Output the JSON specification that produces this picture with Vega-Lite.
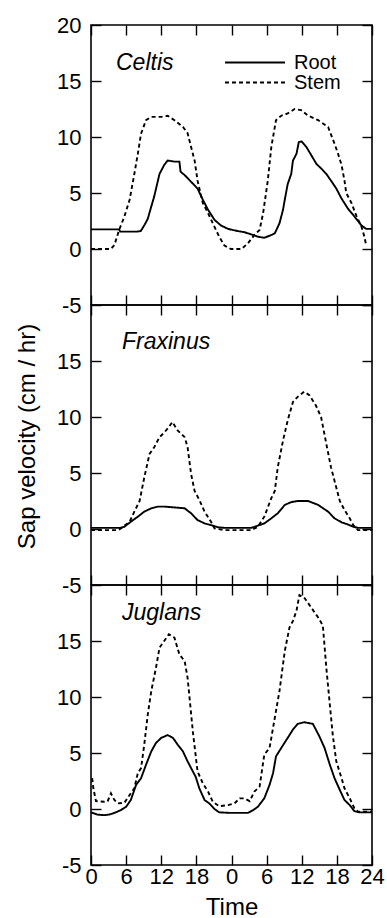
{
  "$schema": "https://vega.github.io/schema/vega-lite/v6.json",
  "background": "white",
  "padding": {"left": 14, "top": 13, "right": 5, "bottom": 0},
  "config": {
    "font": "Liberation Sans",
    "view": {"stroke": "black", "strokeWidth": 1.6},
    "axis": {"grid": false, "domain": false, "tickColor": "black", "tickWidth": 1.4, "tickSize": -10, "labelColor": "black", "labelFontSize": 22, "labelFont": "Liberation Sans", "titleFont": "Liberation Sans", "titleFontSize": 24, "titleFontWeight": "normal", "titleColor": "black", "labelFlush": false, "labelOverlap": false},
    "title": {"font": "Liberation Sans", "fontSize": 23, "fontStyle": "italic", "fontWeight": "normal", "color": "black", "anchor": "start", "frame": "group", "offset": -61, "dx": 25},
    "line": {"strokeWidth": 1.9, "color": "black"}
  },
  "datasets": {
    "sap": [
      {"s":"Celtis","p":"Root","t":0,"v":1.75},{"s":"Celtis","p":"Root","t":4.8,"v":1.75},{"s":"Celtis","p":"Root","t":5.0,"v":1.55},{"s":"Celtis","p":"Root","t":7.7,"v":1.55},{"s":"Celtis","p":"Root","t":8.5,"v":1.6},{"s":"Celtis","p":"Root","t":9.2,"v":2.2},{"s":"Celtis","p":"Root","t":9.7,"v":2.7},{"s":"Celtis","p":"Root","t":10.3,"v":3.8},{"s":"Celtis","p":"Root","t":10.8,"v":4.7},{"s":"Celtis","p":"Root","t":11.7,"v":6.7},{"s":"Celtis","p":"Root","t":12.5,"v":7.5},{"s":"Celtis","p":"Root","t":13.1,"v":7.9},{"s":"Celtis","p":"Root","t":14.25,"v":7.8},{"s":"Celtis","p":"Root","t":15.1,"v":7.8},{"s":"Celtis","p":"Root","t":15.3,"v":6.9},{"s":"Celtis","p":"Root","t":16,"v":6.6},{"s":"Celtis","p":"Root","t":17.1,"v":6.0},{"s":"Celtis","p":"Root","t":18.2,"v":5.4},{"s":"Celtis","p":"Root","t":19.1,"v":4.4},{"s":"Celtis","p":"Root","t":20,"v":3.5},{"s":"Celtis","p":"Root","t":21.1,"v":2.6},{"s":"Celtis","p":"Root","t":22.2,"v":2.1},{"s":"Celtis","p":"Root","t":23.4,"v":1.8},{"s":"Celtis","p":"Root","t":24.2,"v":1.7},{"s":"Celtis","p":"Root","t":25.1,"v":1.6},{"s":"Celtis","p":"Root","t":26.2,"v":1.5},{"s":"Celtis","p":"Root","t":27.4,"v":1.3},{"s":"Celtis","p":"Root","t":28.5,"v":1.1},{"s":"Celtis","p":"Root","t":29.6,"v":1.0},{"s":"Celtis","p":"Root","t":30.8,"v":1.25},{"s":"Celtis","p":"Root","t":31.4,"v":1.4},{"s":"Celtis","p":"Root","t":32.2,"v":2.3},{"s":"Celtis","p":"Root","t":32.8,"v":3.5},{"s":"Celtis","p":"Root","t":33.1,"v":4.4},{"s":"Celtis","p":"Root","t":33.6,"v":5.8},{"s":"Celtis","p":"Root","t":34.2,"v":6.7},{"s":"Celtis","p":"Root","t":34.5,"v":7.9},{"s":"Celtis","p":"Root","t":35.1,"v":8.5},{"s":"Celtis","p":"Root","t":35.5,"v":9.55},{"s":"Celtis","p":"Root","t":36,"v":9.6},{"s":"Celtis","p":"Root","t":36.8,"v":9.1},{"s":"Celtis","p":"Root","t":37.6,"v":8.4},{"s":"Celtis","p":"Root","t":38.5,"v":7.6},{"s":"Celtis","p":"Root","t":39.3,"v":7.2},{"s":"Celtis","p":"Root","t":40.2,"v":6.7},{"s":"Celtis","p":"Root","t":41,"v":6.1},{"s":"Celtis","p":"Root","t":41.9,"v":5.4},{"s":"Celtis","p":"Root","t":42.8,"v":4.5},{"s":"Celtis","p":"Root","t":43.9,"v":3.6},{"s":"Celtis","p":"Root","t":45,"v":2.9},{"s":"Celtis","p":"Root","t":46.2,"v":2.1},{"s":"Celtis","p":"Root","t":47,"v":1.8},{"s":"Celtis","p":"Root","t":48,"v":1.8},
      {"s":"Celtis","p":"Stem","t":0,"v":0},{"s":"Celtis","p":"Stem","t":3.4,"v":0},{"s":"Celtis","p":"Stem","t":4,"v":0.35},{"s":"Celtis","p":"Stem","t":4.8,"v":1.7},{"s":"Celtis","p":"Stem","t":5.7,"v":2.9},{"s":"Celtis","p":"Stem","t":6.6,"v":4.4},{"s":"Celtis","p":"Stem","t":7.4,"v":6.7},{"s":"Celtis","p":"Stem","t":8,"v":8.5},{"s":"Celtis","p":"Stem","t":8.55,"v":10.3},{"s":"Celtis","p":"Stem","t":9.4,"v":11.5},{"s":"Celtis","p":"Stem","t":10.3,"v":11.8},{"s":"Celtis","p":"Stem","t":12,"v":11.8},{"s":"Celtis","p":"Stem","t":13.1,"v":11.9},{"s":"Celtis","p":"Stem","t":14.25,"v":11.5},{"s":"Celtis","p":"Stem","t":15.7,"v":10.9},{"s":"Celtis","p":"Stem","t":16.5,"v":10.35},{"s":"Celtis","p":"Stem","t":17.1,"v":9.1},{"s":"Celtis","p":"Stem","t":17.7,"v":7.9},{"s":"Celtis","p":"Stem","t":18.2,"v":6.1},{"s":"Celtis","p":"Stem","t":19.1,"v":4.1},{"s":"Celtis","p":"Stem","t":20,"v":3.2},{"s":"Celtis","p":"Stem","t":20.8,"v":2.3},{"s":"Celtis","p":"Stem","t":21.9,"v":1.1},{"s":"Celtis","p":"Stem","t":22.8,"v":0.3},{"s":"Celtis","p":"Stem","t":23.9,"v":0},{"s":"Celtis","p":"Stem","t":25.7,"v":0},{"s":"Celtis","p":"Stem","t":26.8,"v":0.5},{"s":"Celtis","p":"Stem","t":27.9,"v":1.25},{"s":"Celtis","p":"Stem","t":28.8,"v":1.7},{"s":"Celtis","p":"Stem","t":29.4,"v":3.2},{"s":"Celtis","p":"Stem","t":30.2,"v":6.1},{"s":"Celtis","p":"Stem","t":30.8,"v":9.1},{"s":"Celtis","p":"Stem","t":31.6,"v":11.5},{"s":"Celtis","p":"Stem","t":32.5,"v":11.9},{"s":"Celtis","p":"Stem","t":33.6,"v":12.1},{"s":"Celtis","p":"Stem","t":34.8,"v":12.5},{"s":"Celtis","p":"Stem","t":35.9,"v":12.4},{"s":"Celtis","p":"Stem","t":37.1,"v":11.9},{"s":"Celtis","p":"Stem","t":38.8,"v":11.5},{"s":"Celtis","p":"Stem","t":40.5,"v":10.9},{"s":"Celtis","p":"Stem","t":41.6,"v":9.4},{"s":"Celtis","p":"Stem","t":42.2,"v":8.5},{"s":"Celtis","p":"Stem","t":42.8,"v":7.5},{"s":"Celtis","p":"Stem","t":43.3,"v":6.1},{"s":"Celtis","p":"Stem","t":43.6,"v":5.0},{"s":"Celtis","p":"Stem","t":44.5,"v":4.1},{"s":"Celtis","p":"Stem","t":45.3,"v":3.0},{"s":"Celtis","p":"Stem","t":46.2,"v":2.0},{"s":"Celtis","p":"Stem","t":46.7,"v":1.1},{"s":"Celtis","p":"Stem","t":47,"v":0.35},
      {"s":"Fraxinus","p":"Root","t":0,"v":0.1},{"s":"Fraxinus","p":"Root","t":5,"v":0.1},{"s":"Fraxinus","p":"Root","t":5.7,"v":0.2},{"s":"Fraxinus","p":"Root","t":6.8,"v":0.65},{"s":"Fraxinus","p":"Root","t":8,"v":1.1},{"s":"Fraxinus","p":"Root","t":9.1,"v":1.55},{"s":"Fraxinus","p":"Root","t":10.3,"v":1.85},{"s":"Fraxinus","p":"Root","t":11.4,"v":2.0},{"s":"Fraxinus","p":"Root","t":12.5,"v":2.0},{"s":"Fraxinus","p":"Root","t":14.8,"v":1.9},{"s":"Fraxinus","p":"Root","t":16,"v":1.85},{"s":"Fraxinus","p":"Root","t":17.1,"v":1.4},{"s":"Fraxinus","p":"Root","t":18.2,"v":0.8},{"s":"Fraxinus","p":"Root","t":19.4,"v":0.5},{"s":"Fraxinus","p":"Root","t":20.5,"v":0.35},{"s":"Fraxinus","p":"Root","t":21.7,"v":0.15},{"s":"Fraxinus","p":"Root","t":22.8,"v":0.1},{"s":"Fraxinus","p":"Root","t":27.4,"v":0.1},{"s":"Fraxinus","p":"Root","t":28.5,"v":0.3},{"s":"Fraxinus","p":"Root","t":29.6,"v":0.5},{"s":"Fraxinus","p":"Root","t":30.8,"v":0.95},{"s":"Fraxinus","p":"Root","t":31.9,"v":1.4},{"s":"Fraxinus","p":"Root","t":33.1,"v":2.15},{"s":"Fraxinus","p":"Root","t":34.2,"v":2.4},{"s":"Fraxinus","p":"Root","t":35.3,"v":2.5},{"s":"Fraxinus","p":"Root","t":37.1,"v":2.5},{"s":"Fraxinus","p":"Root","t":38.8,"v":2.15},{"s":"Fraxinus","p":"Root","t":40.5,"v":1.55},{"s":"Fraxinus","p":"Root","t":41.6,"v":0.95},{"s":"Fraxinus","p":"Root","t":42.8,"v":0.6},{"s":"Fraxinus","p":"Root","t":43.9,"v":0.4},{"s":"Fraxinus","p":"Root","t":44.8,"v":0.2},{"s":"Fraxinus","p":"Root","t":45.6,"v":0.1},{"s":"Fraxinus","p":"Root","t":48,"v":0.1},
      {"s":"Fraxinus","p":"Stem","t":0,"v":-0.1},{"s":"Fraxinus","p":"Stem","t":4.6,"v":-0.1},{"s":"Fraxinus","p":"Stem","t":5.1,"v":0.05},{"s":"Fraxinus","p":"Stem","t":6.6,"v":0.65},{"s":"Fraxinus","p":"Stem","t":7.4,"v":1.55},{"s":"Fraxinus","p":"Stem","t":8.3,"v":2.5},{"s":"Fraxinus","p":"Stem","t":9.1,"v":4.6},{"s":"Fraxinus","p":"Stem","t":10,"v":6.7},{"s":"Fraxinus","p":"Stem","t":10.8,"v":7.3},{"s":"Fraxinus","p":"Stem","t":11.7,"v":8.2},{"s":"Fraxinus","p":"Stem","t":12.5,"v":8.6},{"s":"Fraxinus","p":"Stem","t":13.3,"v":9.1},{"s":"Fraxinus","p":"Stem","t":13.9,"v":9.55},{"s":"Fraxinus","p":"Stem","t":14.8,"v":8.8},{"s":"Fraxinus","p":"Stem","t":16,"v":8.2},{"s":"Fraxinus","p":"Stem","t":16.5,"v":7.3},{"s":"Fraxinus","p":"Stem","t":17.1,"v":4.9},{"s":"Fraxinus","p":"Stem","t":17.7,"v":3.4},{"s":"Fraxinus","p":"Stem","t":18.5,"v":2.6},{"s":"Fraxinus","p":"Stem","t":19.4,"v":1.55},{"s":"Fraxinus","p":"Stem","t":20.5,"v":0.65},{"s":"Fraxinus","p":"Stem","t":21.1,"v":0.05},{"s":"Fraxinus","p":"Stem","t":22.8,"v":-0.1},{"s":"Fraxinus","p":"Stem","t":27.4,"v":-0.1},{"s":"Fraxinus","p":"Stem","t":28.5,"v":0.2},{"s":"Fraxinus","p":"Stem","t":29.6,"v":1.1},{"s":"Fraxinus","p":"Stem","t":30.8,"v":2.75},{"s":"Fraxinus","p":"Stem","t":31.4,"v":3.4},{"s":"Fraxinus","p":"Stem","t":31.9,"v":5.5},{"s":"Fraxinus","p":"Stem","t":32.8,"v":7.9},{"s":"Fraxinus","p":"Stem","t":33.6,"v":9.7},{"s":"Fraxinus","p":"Stem","t":34.5,"v":11.35},{"s":"Fraxinus","p":"Stem","t":35.3,"v":11.8},{"s":"Fraxinus","p":"Stem","t":36.4,"v":12.25},{"s":"Fraxinus","p":"Stem","t":37.3,"v":11.95},{"s":"Fraxinus","p":"Stem","t":38.4,"v":11.05},{"s":"Fraxinus","p":"Stem","t":39.3,"v":10.0},{"s":"Fraxinus","p":"Stem","t":40.2,"v":7.6},{"s":"Fraxinus","p":"Stem","t":41,"v":5.5},{"s":"Fraxinus","p":"Stem","t":41.9,"v":3.7},{"s":"Fraxinus","p":"Stem","t":42.5,"v":2.5},{"s":"Fraxinus","p":"Stem","t":43.3,"v":1.7},{"s":"Fraxinus","p":"Stem","t":44.2,"v":0.95},{"s":"Fraxinus","p":"Stem","t":44.8,"v":0.35},{"s":"Fraxinus","p":"Stem","t":45.6,"v":-0.1},{"s":"Fraxinus","p":"Stem","t":48,"v":-0.1},
      {"s":"Juglans","p":"Root","t":0,"v":-0.3},{"s":"Juglans","p":"Root","t":1.1,"v":-0.5},{"s":"Juglans","p":"Root","t":2.3,"v":-0.55},{"s":"Juglans","p":"Root","t":3.1,"v":-0.5},{"s":"Juglans","p":"Root","t":4,"v":-0.35},{"s":"Juglans","p":"Root","t":5.1,"v":-0.1},{"s":"Juglans","p":"Root","t":6,"v":0.2},{"s":"Juglans","p":"Root","t":6.8,"v":0.8},{"s":"Juglans","p":"Root","t":7.7,"v":2.15},{"s":"Juglans","p":"Root","t":8.55,"v":2.75},{"s":"Juglans","p":"Root","t":9.4,"v":3.95},{"s":"Juglans","p":"Root","t":10.3,"v":5.15},{"s":"Juglans","p":"Root","t":11.1,"v":5.9},{"s":"Juglans","p":"Root","t":12,"v":6.35},{"s":"Juglans","p":"Root","t":13.1,"v":6.6},{"s":"Juglans","p":"Root","t":14,"v":6.35},{"s":"Juglans","p":"Root","t":14.8,"v":5.75},{"s":"Juglans","p":"Root","t":15.7,"v":5.15},{"s":"Juglans","p":"Root","t":16.5,"v":4.25},{"s":"Juglans","p":"Root","t":17.4,"v":3.35},{"s":"Juglans","p":"Root","t":17.9,"v":2.85},{"s":"Juglans","p":"Root","t":18.5,"v":1.85},{"s":"Juglans","p":"Root","t":19.4,"v":0.8},{"s":"Juglans","p":"Root","t":20.2,"v":0.5},{"s":"Juglans","p":"Root","t":21.1,"v":0},{"s":"Juglans","p":"Root","t":21.9,"v":-0.3},{"s":"Juglans","p":"Root","t":23.9,"v":-0.35},{"s":"Juglans","p":"Root","t":26.8,"v":-0.35},{"s":"Juglans","p":"Root","t":27.7,"v":-0.1},{"s":"Juglans","p":"Root","t":28.5,"v":0.2},{"s":"Juglans","p":"Root","t":29.6,"v":0.95},{"s":"Juglans","p":"Root","t":30.5,"v":2.15},{"s":"Juglans","p":"Root","t":31.1,"v":3.2},{"s":"Juglans","p":"Root","t":31.6,"v":4.7},{"s":"Juglans","p":"Root","t":32.5,"v":5.45},{"s":"Juglans","p":"Root","t":33.6,"v":6.35},{"s":"Juglans","p":"Root","t":34.5,"v":7.1},{"s":"Juglans","p":"Root","t":35.3,"v":7.6},{"s":"Juglans","p":"Root","t":36.4,"v":7.75},{"s":"Juglans","p":"Root","t":37.9,"v":7.6},{"s":"Juglans","p":"Root","t":39,"v":6.5},{"s":"Juglans","p":"Root","t":39.9,"v":5.45},{"s":"Juglans","p":"Root","t":40.8,"v":3.95},{"s":"Juglans","p":"Root","t":41.6,"v":2.75},{"s":"Juglans","p":"Root","t":42.5,"v":1.7},{"s":"Juglans","p":"Root","t":43.3,"v":0.8},{"s":"Juglans","p":"Root","t":44.2,"v":0.35},{"s":"Juglans","p":"Root","t":45,"v":-0.2},{"s":"Juglans","p":"Root","t":45.9,"v":-0.3},{"s":"Juglans","p":"Root","t":48,"v":-0.3},
      {"s":"Juglans","p":"Stem","t":0.2,"v":2.75},{"s":"Juglans","p":"Stem","t":0.4,"v":1.85},{"s":"Juglans","p":"Stem","t":0.85,"v":0.7},{"s":"Juglans","p":"Stem","t":2.3,"v":0.65},{"s":"Juglans","p":"Stem","t":2.85,"v":0.7},{"s":"Juglans","p":"Stem","t":3.4,"v":1.4},{"s":"Juglans","p":"Stem","t":4,"v":0.8},{"s":"Juglans","p":"Stem","t":4.6,"v":0.5},{"s":"Juglans","p":"Stem","t":5.7,"v":0.55},{"s":"Juglans","p":"Stem","t":6.6,"v":1.25},{"s":"Juglans","p":"Stem","t":7.4,"v":1.85},{"s":"Juglans","p":"Stem","t":8,"v":3.2},{"s":"Juglans","p":"Stem","t":8.55,"v":3.65},{"s":"Juglans","p":"Stem","t":9.1,"v":5.75},{"s":"Juglans","p":"Stem","t":9.7,"v":8.45},{"s":"Juglans","p":"Stem","t":10.3,"v":10.55},{"s":"Juglans","p":"Stem","t":11.1,"v":12.6},{"s":"Juglans","p":"Stem","t":11.7,"v":14.4},{"s":"Juglans","p":"Stem","t":12.5,"v":15.0},{"s":"Juglans","p":"Stem","t":13.3,"v":15.6},{"s":"Juglans","p":"Stem","t":14.25,"v":15.3},{"s":"Juglans","p":"Stem","t":15.1,"v":13.8},{"s":"Juglans","p":"Stem","t":16,"v":13.2},{"s":"Juglans","p":"Stem","t":16.5,"v":11.7},{"s":"Juglans","p":"Stem","t":17.4,"v":6.9},{"s":"Juglans","p":"Stem","t":18.2,"v":3.35},{"s":"Juglans","p":"Stem","t":19.1,"v":2.3},{"s":"Juglans","p":"Stem","t":20,"v":1.55},{"s":"Juglans","p":"Stem","t":20.8,"v":0.65},{"s":"Juglans","p":"Stem","t":21.9,"v":0.25},{"s":"Juglans","p":"Stem","t":23.4,"v":0.35},{"s":"Juglans","p":"Stem","t":24.5,"v":0.5},{"s":"Juglans","p":"Stem","t":25.4,"v":0.95},{"s":"Juglans","p":"Stem","t":26.2,"v":0.95},{"s":"Juglans","p":"Stem","t":27.1,"v":0.7},{"s":"Juglans","p":"Stem","t":27.9,"v":1.55},{"s":"Juglans","p":"Stem","t":28.8,"v":2.0},{"s":"Juglans","p":"Stem","t":29.6,"v":4.85},{"s":"Juglans","p":"Stem","t":30.5,"v":5.45},{"s":"Juglans","p":"Stem","t":31.4,"v":8.15},{"s":"Juglans","p":"Stem","t":32.2,"v":10.55},{"s":"Juglans","p":"Stem","t":33.1,"v":14.1},{"s":"Juglans","p":"Stem","t":33.9,"v":16.2},{"s":"Juglans","p":"Stem","t":34.5,"v":16.8},{"s":"Juglans","p":"Stem","t":35.1,"v":17.7},{"s":"Juglans","p":"Stem","t":35.6,"v":19.1},{"s":"Juglans","p":"Stem","t":36.4,"v":18.9},{"s":"Juglans","p":"Stem","t":37.6,"v":18.0},{"s":"Juglans","p":"Stem","t":38.8,"v":17.1},{"s":"Juglans","p":"Stem","t":39.6,"v":16.4},{"s":"Juglans","p":"Stem","t":40.2,"v":12.6},{"s":"Juglans","p":"Stem","t":40.8,"v":9.3},{"s":"Juglans","p":"Stem","t":41.3,"v":6.6},{"s":"Juglans","p":"Stem","t":41.9,"v":4.25},{"s":"Juglans","p":"Stem","t":42.8,"v":2.75},{"s":"Juglans","p":"Stem","t":43.3,"v":1.85},{"s":"Juglans","p":"Stem","t":44.2,"v":0.95},{"s":"Juglans","p":"Stem","t":45,"v":0.05},{"s":"Juglans","p":"Stem","t":45.6,"v":-0.25},{"s":"Juglans","p":"Stem","t":48,"v":-0.25}
    ]
  },
  "spacing": 0,
  "bounds": "flush",
  "resolve": {"scale": {"strokeDash": "independent"}, "legend": {"strokeDash": "independent"}},
  "vconcat": [
    {
      "width": 281, "height": 280,
      "title": {"text": "Celtis"},
      "data": {"name": "sap"},
      "transform": [{"filter": "datum.s === 'Celtis'"}],
      "resolve": {"axis": {"x": "independent", "y": "independent"}},
      "layer": [
        {
          "transform": [{"filter": "datum.p === 'Root'"}],
          "mark": {"type": "line"},
          "encoding": {
            "x": {"field": "t", "type": "quantitative", "scale": {"domain": [0, 48], "nice": false, "zero": false}, "axis": {"orient": "bottom", "values": [0,6,12,18,24,30,36,42,48], "labels": false, "title": null}},
            "y": {"field": "v", "type": "quantitative", "scale": {"domain": [-5, 20], "nice": false, "zero": false}, "axis": {"orient": "left", "values": [-5,0,5,10,15,20], "labelExpr": "datum.value < 0 ? '-' + (-datum.value) : '' + datum.value", "labelPadding": 20, "title": null}},
            "strokeDash": {"field": "p", "type": "nominal", "scale": {"domain": ["Root", "Stem"], "range": [[1, 0], [4, 3]]}, "legend": {"orient": "none", "legendX": 154, "legendY": 27.5, "title": null, "symbolType": "M-4,0H4", "symbolSize": 225, "symbolStrokeColor": "black", "symbolStrokeWidth": 1.9, "symbolFillColor": "transparent", "labelFontSize": 20, "labelFont": "Liberation Sans", "labelColor": "black", "labelOffset": 29, "rowPadding": 0, "padding": 0}}
          }
        },
        {
          "transform": [{"filter": "datum.p === 'Stem'"}],
          "mark": {"type": "line"},
          "encoding": {
            "x": {"field": "t", "type": "quantitative", "axis": {"orient": "top", "values": [0,6,12,18,24,30,36,42,48], "labels": false, "title": null}},
            "y": {"field": "v", "type": "quantitative", "axis": {"orient": "right", "values": [-5,0,5,10,15,20], "labels": false, "title": null}},
            "strokeDash": {"field": "p", "type": "nominal"}
          }
        }
      ]
    },
    {
      "width": 281, "height": 280,
      "title": {"text": "Fraxinus", "offset": -50, "dx": 31},
      "data": {"name": "sap"},
      "transform": [{"filter": "datum.s === 'Fraxinus'"}],
      "resolve": {"axis": {"x": "independent", "y": "independent"}},
      "layer": [
        {
          "transform": [{"filter": "datum.p === 'Root'"}],
          "mark": {"type": "line"},
          "encoding": {
            "x": {"field": "t", "type": "quantitative", "scale": {"domain": [0, 48], "nice": false, "zero": false}, "axis": {"orient": "bottom", "values": [0,6,12,18,24,30,36,42,48], "labels": false, "title": null}},
            "y": {"field": "v", "type": "quantitative", "scale": {"domain": [-5, 20], "nice": false, "zero": false}, "axis": {"orient": "left", "values": [-5,0,5,10,15], "labelExpr": "datum.value < 0 ? '-' + (-datum.value) : '' + datum.value", "labelPadding": 20, "title": "Sap velocity (cm / hr)", "titlePadding": 17, "titleY": 131}},
            "strokeDash": {"field": "p", "type": "nominal", "scale": {"domain": ["Root", "Stem"], "range": [[1, 0], [4, 3]]}, "legend": null}
          }
        },
        {
          "transform": [{"filter": "datum.p === 'Stem'"}],
          "mark": {"type": "line"},
          "encoding": {
            "x": {"field": "t", "type": "quantitative", "axis": {"orient": "top", "values": [0,6,12,18,24,30,36,42,48], "labels": false, "title": null}},
            "y": {"field": "v", "type": "quantitative", "axis": {"orient": "right", "values": [-5,0,5,10,15,20], "labels": false, "title": null}},
            "strokeDash": {"field": "p", "type": "nominal", "legend": null}
          }
        }
      ]
    },
    {
      "width": 281, "height": 280,
      "title": {"text": "Juglans", "offset": -41, "dx": 31},
      "data": {"name": "sap"},
      "transform": [{"filter": "datum.s === 'Juglans'"}],
      "resolve": {"axis": {"x": "independent", "y": "independent"}},
      "layer": [
        {
          "transform": [{"filter": "datum.p === 'Root'"}],
          "mark": {"type": "line"},
          "encoding": {
            "x": {"field": "t", "type": "quantitative", "scale": {"domain": [0, 48], "nice": false, "zero": false}, "axis": {"orient": "bottom", "values": [0,6,12,18,24,30,36,42,48], "labelExpr": "datum.value == 48 ? '24' : '' + (datum.value % 24)", "labelPadding": 11, "title": "Time", "titlePadding": 8}},
            "y": {"field": "v", "type": "quantitative", "scale": {"domain": [-5, 20], "nice": false, "zero": false}, "axis": {"orient": "left", "values": [-5,0,5,10,15], "labelExpr": "datum.value < 0 ? '-' + (-datum.value) : '' + datum.value", "labelPadding": 20, "title": null}},
            "strokeDash": {"field": "p", "type": "nominal", "scale": {"domain": ["Root", "Stem"], "range": [[1, 0], [4, 3]]}, "legend": null}
          }
        },
        {
          "transform": [{"filter": "datum.p === 'Stem'"}],
          "mark": {"type": "line"},
          "encoding": {
            "x": {"field": "t", "type": "quantitative", "axis": {"orient": "top", "values": [0,6,12,18,24,30,36,42,48], "labels": false, "title": null}},
            "y": {"field": "v", "type": "quantitative", "axis": {"orient": "right", "values": [-5,0,5,10,15,20], "labels": false, "title": null}},
            "strokeDash": {"field": "p", "type": "nominal", "legend": null}
          }
        }
      ]
    }
  ]
}
